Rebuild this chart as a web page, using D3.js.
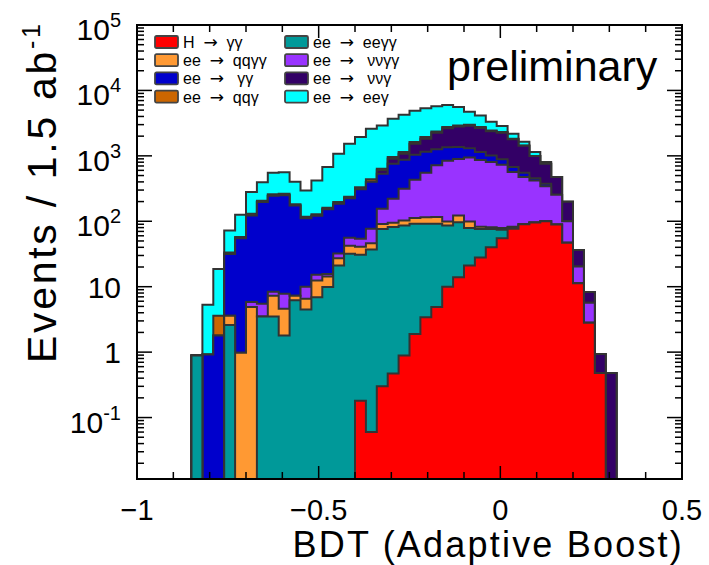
<!DOCTYPE html>
<html>
<head>
<meta charset="utf-8">
<script src="https://cdn.jsdelivr.net/npm/d3@7"></script>
<style>
  body { margin: 0; background: #fff; }
  text { font-family: "Liberation Sans", Arial, sans-serif; fill: #000; }
  .leg text { white-space: pre; }
  .arrow { font-family: "DejaVu Sans", sans-serif; }
</style>
</head>
<body>
<script>
// 50 bins of BDT output, width 0.03, from -1 to 0.5
let binWidth = 0.03;
let binLow = d3.range(50).map(i => -1 + i * binWidth);

// events per bin for each sample
let higgs = [
    0, 0, 0, 0, 0, 0, 0, 0, 0, 0,
    0, 0, 0, 0, 0, 0, 0, 0, 0, 0,
    0.18, 0.06, 0.3, 0.47, 0.89, 1.9, 3.4, 4.9, 10, 14,
    21, 28, 40, 55, 77, 90, 96, 100, 89, 47,
    11.3, 2.8, 0.48, 0, 0, 0, 0, 0, 0, 0
];
let eeGG = [
    0, 0, 0, 0, 0, 0.89, 0, 0, 2.6, 0,
    0, 3.5, 3.5, 1.8, 6.2, 4.5, 6.9, 9.9, 21, 32,
    30.5, 37, 76, 81, 85, 90, 88, 87, 76, 83,
    58, 48, 36, 19, 4.2, 0, 0, 0, 0, 0,
    0, 0, 0, 0, 0, 0, 0, 0, 0, 0
];
let qqGG = [
    0, 0, 0, 0, 0, 0, 0, 0, 1.0, 0.98,
    4.9, 0, 3.8, 2.8, 1.1, 2.05, 5.5, 4.4, 6.3, 10.4,
    10, 9, 14.7, 13.3, 16.5, 20.5, 24, 24, 13, 25.5,
    20.6, 6.4, 4.7, 4.6, 1.4, 0, 0, 0, 0, 0,
    0, 0, 0, 0, 0, 0, 0, 0, 0, 0
];
let nnGG = [
    0, 0, 0, 0, 0, 0, 0, 0, 0, 0,
    0.93, 2.0, 1.1, 3.2, 0, 3.4, 2.8, 1.4, 5.0, 13.7,
    13.3, 31, 64, 126, 211, 319, 436, 602, 742, 770,
    843, 780, 722, 652, 483, 384, 325, 243, 165, 53,
    9.1, 2.9, 0, 0, 0, 0, 0, 0, 0, 0
];
let gg = [
    0, 0, 0, 0, 0, 0, 0.92, 1.8, 28, 54,
    117, 191, 237, 242, 167, 101, 106, 137, 153, 169,
    254, 325, 377, 536, 557, 609, 604, 544, 511, 471,
    364, 280, 210, 156, 109, 78, 33, 31, 0, 0,
    0, 0, 0, 0, 0, 0, 0, 0, 0, 0
];
let nnG = [
    0, 0, 0, 0, 0, 0, 0, 0, 0, 0,
    0, 0, 0, 0, 0, 0, 0, 0, 0, 0,
    0, 0, 70, 146, 206, 491, 669, 992, 1290, 1441,
    1578, 1518, 1363, 1367, 1120, 874, 539, 383, 220, 99,
    16, 2.6, 0.46, 0.48, 0, 0, 0, 0, 0, 0
];
let qqG = [
    0, 0, 0, 0, 0, 0, 0, 1.8, 1.8, 2.6,
    7.6, 9, 13, 13, 7.4, 6, 6.7, 8.3, 11, 12,
    23, 37, 33, 56, 66, 95, 113, 106, 112, 112,
    108, 93, 68, 58, 31, 16, 0, 0, 0, 0,
    0, 0, 0, 0, 0, 0, 0, 0, 0, 0
];
let eeG = [
    0, 0, 0, 0, 0, 0, 4.4, 15, 39, 68,
    149, 191, 293, 298, 220, 179, 293, 513, 880, 1294,
    1607, 2157, 2282, 2731, 3106, 3272, 3408, 3368, 3226, 2655,
    1730, 1396, 876, 546, 353, 202, 150, 47, 0, 0,
    0, 0, 0, 0, 0, 0, 0, 0, 0, 0
];

// legend text: initial state, final state
let samples = {
    higgs: {from: 'H', to: '\u03b3\u03b3', color: '#ff0000', values: higgs},
    eeGG: {from: 'ee', to: 'ee\u03b3\u03b3', color: '#009999', values: eeGG},
    qqGG: {from: 'ee', to: 'qq\u03b3\u03b3', color: '#ff9933', values: qqGG},
    nnGG: {from: 'ee', to: ' \u03bd\u03bd\u03b3\u03b3', color: '#9933ff', values: nnGG},
    gg: {from: 'ee', to: ' \u03b3\u03b3', color: '#0000cc', values: gg},
    nnG: {from: 'ee', to: ' \u03bd\u03bd\u03b3', color: '#330066', values: nnG},
    qqG: {from: 'ee', to: 'qq\u03b3', color: '#cc6600', values: qqG},
    eeG: {from: 'ee', to: 'ee\u03b3', color: '#00ffff', values: eeG}
};
// bottom to top in the stack
let stackOrder = ['higgs', 'eeGG', 'qqGG', 'nnGG', 'gg', 'nnG', 'qqG', 'eeG'];
// legend order, column by column
let legendOrder = ['higgs', 'qqGG', 'gg', 'qqG', 'eeGG', 'nnGG', 'nnG', 'eeG'];

let xMajor = [-1, -0.5, 0, 0.5];
let xLabels = ['\u22121', '\u22120.5', '0', '0.5'];
let yDecades = [
    {v: 0.1, base: '10', exp: '-1'},
    {v: 1, base: '1', exp: ''},
    {v: 10, base: '10', exp: ''},
    {v: 100, base: '10', exp: '2'},
    {v: 1000, base: '10', exp: '3'},
    {v: 10000, base: '10', exp: '4'},
    {v: 100000, base: '10', exp: '5'}
];

let width = 709;
let height = 565;
let plotL = 137, plotR = 682, plotT = 25, plotB = 479;
let yMin = 0.0115, yMax = 1e5;

let svg = d3.select('body').append('svg')
    .attr('width', width)
    .attr('height', height);

svg.append('rect').attr('width', width).attr('height', height).attr('fill', '#fff');

let x = d3.scaleLinear().domain([-1, 0.5]).range([plotL, plotR]);
let y = d3.scaleLog().domain([yMin, yMax]).range([plotB, plotT]);

svg.append('clipPath').attr('id', 'frame')
    .append('rect')
    .attr('x', plotL).attr('y', plotT)
    .attr('width', plotR - plotL).attr('height', plotB - plotT);

let table = binLow.map((lo, i) => {
    let row = {lo: lo};
    stackOrder.forEach(k => row[k] = samples[k].values[i]);
    return row;
});
let stacked = d3.stack().keys(stackOrder)(table);

function stepPoints(series) {
    let pts = [];
    series.forEach((d, i) => {
        let v = d[1] > yMin ? d[1] : yMin;
        pts.push([x(binLow[i]), y(v)]);
        pts.push([x(binLow[i] + binWidth), y(v)]);
    });
    return pts;
}

let area = d3.area()
    .x(d => d[0])
    .y0(y(yMin))
    .y1(d => d[1]);

// draw the cumulative histograms from the top one down
svg.append('g')
    .attr('clip-path', 'url(#frame)')
    .selectAll('path')
    .data(stacked.slice().reverse())
    .join('path')
    .attr('d', s => area(stepPoints(s)))
    .attr('fill', s => samples[s.key].color)
    .attr('stroke', '#333')
    .attr('stroke-width', 2);

// frame
svg.append('rect')
    .attr('x', plotL).attr('y', plotT)
    .attr('width', plotR - plotL).attr('height', plotB - plotT)
    .attr('fill', 'none')
    .attr('stroke', '#000')
    .attr('stroke-width', 2);

// x ticks, bottom and top
let xTicks = d3.range(-10, 6).map(i => i / 10);
let tickG = svg.append('g').attr('stroke', '#000').attr('stroke-width', 1.5);
xTicks.forEach(t => {
    let len = xMajor.some(m => Math.abs(m - t) < 1e-9) ? 13 : 7;
    tickG.append('line')
        .attr('x1', x(t)).attr('x2', x(t))
        .attr('y1', plotB).attr('y2', plotB - len);
    tickG.append('line')
        .attr('x1', x(t)).attr('x2', x(t))
        .attr('y1', plotT).attr('y2', plotT + len);
});

// y ticks, left and right
let yTicks = [];
for (let e = -2; e <= 4; e++) {
    for (let m = 1; m <= 9; m++) yTicks.push({v: m * Math.pow(10, e), major: m === 1});
}
yTicks.push({v: 1e5, major: true});
yTicks.filter(t => t.v >= yMin && t.v <= yMax).forEach(t => {
    let len = t.major ? 15 : 7;
    tickG.append('line')
        .attr('x1', plotL).attr('x2', plotL + len)
        .attr('y1', y(t.v)).attr('y2', y(t.v));
    tickG.append('line')
        .attr('x1', plotR).attr('x2', plotR - len)
        .attr('y1', y(t.v)).attr('y2', y(t.v));
});

// x tick labels
svg.selectAll('.xlab')
    .data(xMajor)
    .join('text')
    .attr('class', 'xlab')
    .attr('x', d => x(d))
    .attr('y', 520)
    .attr('text-anchor', 'middle')
    .attr('font-size', 29)
    .text((d, i) => xLabels[i]);

// y tick labels
let ylab = svg.selectAll('.ylab')
    .data(yDecades)
    .join('text')
    .attr('class', 'ylab')
    .attr('x', 121)
    .attr('y', d => y(d.v) + (d.exp ? 15 : 11))
    .attr('text-anchor', 'end')
    .attr('font-size', 30);
ylab.append('tspan').text(d => d.base);
ylab.append('tspan')
    .attr('dy', -13)
    .attr('font-size', 20)
    .text(d => d.exp);

// axis titles
svg.append('text')
    .attr('x', 684)
    .attr('y', 557)
    .attr('text-anchor', 'end')
    .attr('font-size', 36)
    .attr('letter-spacing', 2.2)
    .text('BDT (Adaptive Boost)');

let yTitle = svg.append('text')
    .attr('transform', 'translate(56,363) rotate(-90)')
    .attr('font-size', 41)
    .attr('letter-spacing', 2.7);
yTitle.append('tspan').text('Events / 1.5 ab');
yTitle.append('tspan').attr('dy', -16).attr('font-size', 25).text('-1');

svg.append('text')
    .attr('x', 447)
    .attr('y', 81)
    .attr('font-size', 43)
    .text('preliminary');

// legend
let legend = svg.selectAll('.leg')
    .data(legendOrder)
    .join('g')
    .attr('class', 'leg')
    .attr('transform', (d, i) => `translate(${i < 4 ? 155 : 285},${36 + 18.2 * (i % 4)})`);
legend.append('rect')
    .attr('width', 23).attr('height', 12)
    .attr('rx', 1.5)
    .attr('fill', d => samples[d].color)
    .attr('stroke', '#444')
    .attr('stroke-width', 1.8);
let legText = legend.append('text')
    .attr('x', 28)
    .attr('y', 12)
    .attr('font-size', 16);
legText.append('tspan').text(d => samples[d].from + '  ');
legText.append('tspan').attr('class', 'arrow').attr('font-size', 17).text('\u2192');
legText.append('tspan').text(d => '  ' + samples[d].to);
</script>
</body>
</html>
